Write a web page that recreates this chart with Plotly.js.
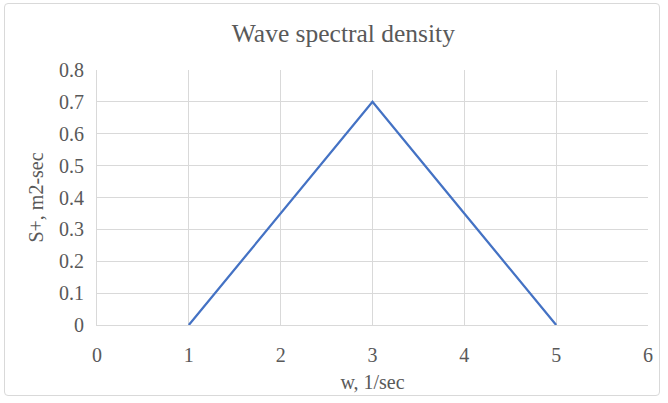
<!DOCTYPE html>
<html>
<head>
<meta charset="utf-8">
<script src="https://cdn.plot.ly/plotly-3.0.1.min.js"></script>
<style>
html,body{margin:0;padding:0;background:#fff;}
#wrap{position:relative;width:668px;height:403px;}
#frame{position:absolute;left:4px;top:3px;width:656px;height:393px;border:1px solid #d9d9d9;border-radius:4px;box-sizing:border-box;pointer-events:none;}
#chart{position:absolute;left:0;top:0;width:668px;height:403px;}
</style>
</head>
<body>
<div id="wrap">
<div id="chart"></div>
<div id="frame"></div>
</div>
<script>
const freq = [1, 2, 3, 4, 5];
const density = [0, 0.35, 0.7, 0.35, 0];
const xTicks = [0, 1, 2, 3, 4, 5, 6];
const yTicks = [0, 0.1, 0.2, 0.3, 0.4, 0.5, 0.6, 0.7, 0.8];

const fontFam = 'Liberation Serif, Times New Roman, serif';
const grey = '#595959';

const trace = {
  x: freq, y: density, type: 'scatter', mode: 'lines',
  line: {color: '#4472C4', width: 2.25},
  hoverinfo: 'none'
};

const layout = {
  width: 668, height: 403,
  font: {family: fontFam, color: grey, size: 20},
  margin: {l: 97, r: 20, t: 70, b: 78},
  paper_bgcolor: 'rgba(0,0,0,0)', plot_bgcolor: '#fff',
  showlegend: false,
  title: {text: 'Wave spectral density', font: {family: fontFam, size: 25.5, color: grey}, x: 0.514, xanchor: 'center', y: 0.918, yanchor: 'middle'},
  xaxis: {
    range: [0, 6], tickvals: xTicks, ticktext: xTicks.map(String),
    showgrid: true, gridcolor: '#d9d9d9', gridwidth: 1,
    zeroline: false, showline: true, linecolor: '#d9d9d9', linewidth: 1, mirror: false,
    ticks: '', ticklabelstandoff: 12,
    tickfont: {family: fontFam, size: 20, color: grey},
    title: {text: 'w, 1/sec', font: {family: fontFam, size: 20, color: grey}, standoff: 9}
  },
  yaxis: {
    range: [0, 0.8], tickvals: yTicks, ticktext: yTicks.map(v => v === 0 ? '0' : v.toFixed(1)),
    showgrid: true, gridcolor: '#d9d9d9', gridwidth: 1,
    zeroline: false, showline: true, linecolor: '#d9d9d9', linewidth: 1,
    ticks: '', ticklabelstandoff: 8,
    tickfont: {family: fontFam, size: 20, color: grey},
    title: {text: 'S+, m2-sec', font: {family: fontFam, size: 20, color: grey}, standoff: 10}
  }
};

Plotly.newPlot('chart', [trace], layout, {staticPlot: true, displayModeBar: false});
</script>
</body>
</html>
